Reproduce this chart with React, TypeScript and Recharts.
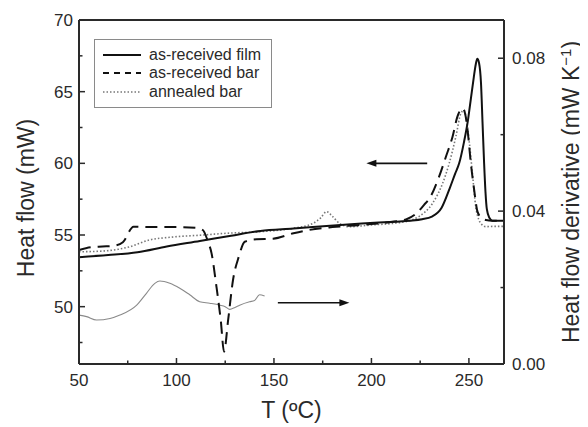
import React from 'react';
import { LineChart, Line, XAxis, YAxis, ReferenceLine } from 'recharts';

const FONT = "'Liberation Sans', Arial, Helvetica, sans-serif";
const INK = '#2a2a2a';

// as-received film (left axis, mW)
const filmT = [50, 65, 80, 95, 112, 128, 143, 160, 177, 195, 212, 220, 226, 231, 236, 240, 243, 245, 247.5, 249.5, 251, 252.5, 253.5, 254.3, 255.2, 256.2, 257, 257.8, 258.5, 259.2, 260.5, 262, 268];
const filmV = [53.45, 53.6, 53.8, 54.2, 54.58, 54.95, 55.28, 55.45, 55.63, 55.8, 55.93, 56.0, 56.1, 56.28, 56.9, 58.2, 59.3, 60.0, 61.5, 63.0, 64.5, 66.0, 66.9, 67.3, 67.0, 65.6, 62.8, 60.0, 58.0, 56.8, 56.2, 56.0, 56.0];

// as-received bar (left axis, mW)
const barT = [50, 56, 62, 68, 72.5, 78, 90, 100, 110, 113.5, 116, 118, 120.5, 122.7, 124.4, 126.5, 129, 132, 135, 141, 149.5, 160, 168, 180, 194, 211, 218, 223, 227, 230, 234.7, 238.2, 241.6, 244.1, 246.7, 248, 249.3, 251, 252.7, 254.4, 256.5, 258.7, 262, 268];
const barV = [53.95, 54.15, 54.2, 54.25, 54.5, 55.58, 55.55, 55.55, 55.5, 55.35, 54.6, 53.72, 51.4, 49.07, 46.86, 49.07, 51.86, 53.5, 54.53, 54.7, 54.74, 55.12, 55.35, 55.55, 55.7, 55.93, 56.1, 56.5, 57.1, 57.6, 59.07, 60.46, 61.86, 63.26, 63.84, 63.5, 62.33, 60.0, 58.14, 56.63, 56.2, 56.05, 56.0, 56.0];

// annealed bar (left axis, mW)
const annT = [50, 62, 70, 76, 86, 96.6, 113.6, 125.6, 142.8, 159.8, 170, 174, 177, 180, 183.6, 188.7, 200, 211, 218, 224.5, 231.3, 236.5, 239.9, 243.3, 245.9, 247.5, 248.8, 250.1, 251.8, 253.5, 255, 256.1, 258.7, 262, 268];
const annV = [53.83, 53.88, 54.0, 54.18, 54.65, 54.84, 55.0, 55.12, 55.23, 55.47, 55.81, 56.2, 56.63, 56.3, 55.81, 55.58, 55.7, 55.81, 55.95, 56.3, 57.2, 58.6, 60.0, 61.86, 63.49, 63.7, 63.0, 61.6, 59.3, 56.98, 56.1, 55.81, 55.58, 55.6, 55.6];

// heat flow derivative (right axis, mW K^-1)
const derT = [50, 53.9, 59, 65.9, 71, 79.6, 84.6, 88.9, 91.5, 96.6, 101.7, 106.8, 111.9, 117, 122.2, 125, 127.3, 130, 132.4, 137.5, 140, 142.6, 145.2];
const derV = [0.0128, 0.0124, 0.0115, 0.0119, 0.0128, 0.0154, 0.0185, 0.0211, 0.0217, 0.0211, 0.0198, 0.0181, 0.0163, 0.0159, 0.0154, 0.015, 0.0143, 0.0148, 0.0154, 0.0163, 0.0166, 0.0181, 0.0178];

// arrows (annotation): [fromT, toT, level]
const leftArrow = [228.6, 197.4, 60.0];
const rightArrow = [152, 188.7, 50.27];

const xDomain = [50, 268];
const xTicks = [50, 75, 100, 125, 150, 175, 200, 225, 250];
const xMajor = [50, 100, 150, 200, 250];
const leftDomain = [46, 70];
const leftTicks = [47.5, 50, 52.5, 55, 57.5, 60, 62.5, 65, 67.5, 70];
const leftMajor = [50, 55, 60, 65, 70];
const rightDomain = [0, 0.09];
const rightTicks = [0, 0.02, 0.04, 0.06, 0.08];
const rightMajor = [0, 0.04, 0.08];

const seriesNames = ['as-received film', 'as-received bar', 'annealed bar'];

const zip = (ts: number[], vs: number[]) => ts.map((t, i) => ({ t, v: vs[i] }));
const filmData = zip(filmT, filmV);
const barData = zip(barT, barV);
const annData = zip(annT, annV);
const derData = zip(derT, derV);

const TICK_FS = 17;
const TITLE_FS = 23;

const LeftTick = (p: any) => {
  const { x, y, payload } = p;
  const ax = x + 6;
  const major = leftMajor.includes(payload.value);
  return (
    <g>
      <line x1={ax} x2={ax + (major ? 6 : 3.5)} y1={y} y2={y} stroke={INK} strokeWidth={1.5} />
      {major && (
        <text x={x} y={y} dy="0.36em" textAnchor="end" fontSize={TICK_FS} fill={INK} fontFamily={FONT}>
          {payload.value}
        </text>
      )}
    </g>
  );
};

const RightTick = (p: any) => {
  const { x, y, payload } = p;
  const ax = x - 8;
  const major = rightMajor.includes(payload.value);
  return (
    <g>
      <line x1={ax} x2={ax - (major ? 6 : 3.5)} y1={y} y2={y} stroke={INK} strokeWidth={1.5} />
      {major && (
        <text x={x} y={y} dy="0.36em" textAnchor="start" fontSize={TICK_FS} fill={INK} fontFamily={FONT}>
          {Number(payload.value).toFixed(2)}
        </text>
      )}
    </g>
  );
};

const BottomTick = (p: any) => {
  const { x, y, payload } = p;
  const ay = y - 10;
  const major = xMajor.includes(payload.value);
  return (
    <g>
      <line x1={x} x2={x} y1={ay} y2={ay - (major ? 6 : 3.5)} stroke={INK} strokeWidth={1.5} />
      {major && (
        <text x={x} y={y} dy="0.71em" textAnchor="middle" fontSize={TICK_FS} fill={INK} fontFamily={FONT}>
          {payload.value}
        </text>
      )}
    </g>
  );
};

const arrowShape = (p: any) => {
  const { x1, y1, x2, y2 } = p;
  if ([x1, y1, x2, y2].some((v) => typeof v !== 'number' || isNaN(v))) return <g />;
  const dir = x2 > x1 ? 1 : -1;
  const head = 10;
  return (
    <g>
      <line x1={x1} y1={y1} x2={x2 - dir * head * 0.8} y2={y2} stroke="#111" strokeWidth={1.6} />
      <polygon
        points={`${x2},${y2} ${x2 - dir * head},${y2 - 3.5} ${x2 - dir * head},${y2 + 3.5}`}
        fill="#111"
      />
    </g>
  );
};

const legendStyles = [
  { dash: undefined, color: '#111', w: 2 },
  { dash: '6 5', color: '#111', w: 2 },
  { dash: '1.5 2', color: '#777', w: 1.5 },
];

const LegendBox = () => (
  <div
    style={{
      position: 'absolute',
      left: 86,
      top: 31,
      border: '1px solid #8a8a8a',
      background: '#fff',
      padding: '6px 10px 6px 7px',
      fontFamily: FONT,
      fontSize: 16,
      color: INK,
      lineHeight: '18.3px',
    }}
  >
    {seriesNames.map((n, i) => (
      <div key={n} style={{ display: 'flex', alignItems: 'center', whiteSpace: 'nowrap', height: 18.3 }}>
        <svg width={40} height={18} style={{ marginRight: 7 }}>
          <line
            x1={1}
            x2={39}
            y1={9}
            y2={9}
            stroke={legendStyles[i].color}
            strokeWidth={legendStyles[i].w}
            strokeDasharray={legendStyles[i].dash}
          />
        </svg>
        <span>{n}</span>
      </div>
    ))}
  </div>
);

export default function App() {
  return (
    <div style={{ width: 580, height: 419, position: 'relative', fontFamily: FONT }}>
      <LineChart width={580} height={419} margin={{ top: 12, right: 0, bottom: 0, left: 0 }}>
        <XAxis
          type="number"
          dataKey="t"
          domain={xDomain}
          ticks={xTicks}
          interval={0}
          allowDataOverflow
          height={63}
          tickSize={0}
          tickMargin={10}
          tick={<BottomTick />}
          axisLine={{ stroke: INK, strokeWidth: 2 }}
          label={{
            content: (lp: any) => {
              const vb = lp.viewBox || {};
              return (
                <text x={vb.x + vb.width / 2} y={vb.y + 54} textAnchor="middle" fontSize={TITLE_FS} fill={INK} fontFamily={FONT}>
                  T (ºC)
                </text>
              );
            },
          }}
        />
        <YAxis
          yAxisId="left"
          orientation="left"
          type="number"
          domain={leftDomain}
          ticks={leftTicks}
          interval={0}
          allowDataOverflow
          width={71}
          tickSize={0}
          tickMargin={6}
          tick={<LeftTick />}
          axisLine={{ stroke: INK, strokeWidth: 2 }}
          label={{
            content: (lp: any) => {
              const vb = lp.viewBox || {};
              const cx = vb.x + 18;
              const cy = vb.y + vb.height / 2 + 6;
              return (
                <text
                  x={cx}
                  y={cy}
                  transform={`rotate(-90 ${cx} ${cy})`}
                  textAnchor="middle"
                  dy="0.36em"
                  fontSize={TITLE_FS}
                  fill={INK}
                  fontFamily={FONT}
                >
                  Heat flow (mW)
                </text>
              );
            },
          }}
        />
        <YAxis
          yAxisId="right"
          orientation="right"
          type="number"
          domain={rightDomain}
          ticks={rightTicks}
          interval={0}
          allowDataOverflow
          width={84}
          tickSize={0}
          tickMargin={8}
          tick={<RightTick />}
          axisLine={{ stroke: INK, strokeWidth: 2 }}
          label={{
            content: (lp: any) => {
              const vb = lp.viewBox || {};
              const cx = vb.x + 67;
              const cy = vb.y + vb.height / 2;
              return (
                <text
                  x={cx}
                  y={cy}
                  transform={`rotate(-90 ${cx} ${cy})`}
                  textAnchor="middle"
                  dy="0.36em"
                  fontSize={TITLE_FS}
                  fill={INK}
                  fontFamily={FONT}
                >
                  Heat flow derivative (mW K
                  <tspan dy="-8" fontSize={15}>−1</tspan>
                  <tspan dy="8">)</tspan>
                </text>
              );
            },
          }}
        />
        <ReferenceLine yAxisId="left" y={leftDomain[1]} stroke={INK} strokeWidth={2} />
        <ReferenceLine
          yAxisId="left"
          segment={[{ x: leftArrow[0], y: leftArrow[2] }, { x: leftArrow[1], y: leftArrow[2] }]}
          shape={arrowShape}
        />
        <ReferenceLine
          yAxisId="left"
          segment={[{ x: rightArrow[0], y: rightArrow[2] }, { x: rightArrow[1], y: rightArrow[2] }]}
          shape={arrowShape}
        />
        <Line
          yAxisId="right"
          data={derData}
          dataKey="v"
          type="monotone"
          stroke="#8a8a8a"
          strokeWidth={1.1}
          dot={false}
          isAnimationActive={false}
          legendType="none"
          name="derivative"
        />
        <Line
          yAxisId="left"
          data={annData}
          dataKey="v"
          type="monotone"
          stroke="#777"
          strokeWidth={1.6}
          strokeDasharray="1.5 2"
          dot={false}
          isAnimationActive={false}
          name={seriesNames[2]}
        />
        <Line
          yAxisId="left"
          data={barData}
          dataKey="v"
          type="monotone"
          stroke="#111"
          strokeWidth={2}
          strokeDasharray="12 7"
          dot={false}
          isAnimationActive={false}
          name={seriesNames[1]}
        />
        <Line
          yAxisId="left"
          data={filmData}
          dataKey="v"
          type="monotone"
          stroke="#111"
          strokeWidth={2}
          dot={false}
          isAnimationActive={false}
          name={seriesNames[0]}
        />
      </LineChart>
      <LegendBox />
    </div>
  );
}
